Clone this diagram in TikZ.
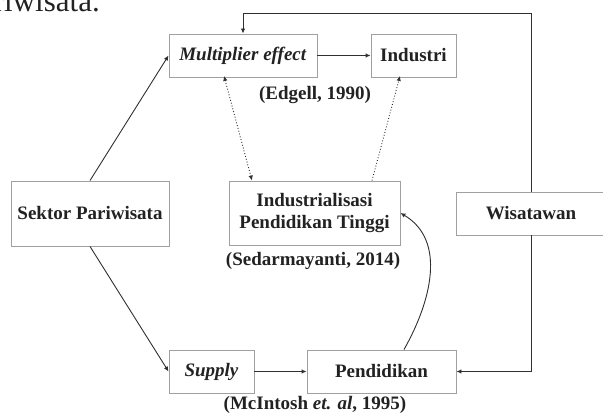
\documentclass[tikz,border=0pt]{standalone}
\usepackage{fontspec}
\setmainfont{Liberation Serif}
\usetikzlibrary{arrows.meta,calc}
\definecolor{boxgray}{HTML}{A0A0A0}
\definecolor{ln}{HTML}{303030}
\definecolor{txt}{HTML}{222222}
\begin{document}
\begin{tikzpicture}[x=1pt,y=-1pt,
  box/.style={draw=boxgray, line width=0.9pt, fill=white, inner sep=0pt,
    font=\fontsize{19}{22}\selectfont\bfseries, text=txt, align=center},
  reftext/.style={font=\fontsize{19}{22}\selectfont\bfseries, text=txt, inner sep=0pt},
  conn/.style={draw=ln, line width=0.9pt, -{Latex[length=5pt,width=4.5pt]}},
  dotconn/.style={conn, dotted}]
\useasboundingbox (0,0) rectangle (603,414);
\clip (0,0) rectangle (603,414);
% fragment of preceding text
\node[anchor=base east, font=\fontsize{31}{31}\selectfont, text=txt, inner sep=0pt] (prev) at (100,11.5) {Pariwisata.};
% boxes
\node[box, minimum width=148pt, minimum height=43pt] (mult) at (243,55.5) {\textit{Multiplier effect}};
\node[box, minimum width=85pt, minimum height=43pt] (ind) at (413.5,55.5) {Industri};
\node[box, minimum width=158pt, minimum height=65pt] (sek) at (90,213.5) {Sektor Pariwisata};
\node[box, minimum width=171pt, minimum height=64pt] (indt) at (314.5,213) {Industrialisasi\\Pendidikan Tinggi};
\node[box, minimum width=150pt, minimum height=43pt] (wis) at (531,213.5) {Wisatawan};
\node[box, minimum width=85pt, minimum height=43pt] (sup) at (211.5,371.5) {\textit{Supply}};
\node[box, minimum width=149pt, minimum height=43pt] (pen) at (381.5,371.5) {Pendidikan};
% references
\node[reftext] (edg) at (315,95) {(Edgell, 1990)};
\node[reftext] (sed) at (313,261) {(Sedarmayanti, 2014)};
\node[reftext] (mci) at (315,405) {(McIntosh \textit{et. al}, 1995)};
% connectors
\draw[conn] (sek.north) -- (mult.west);
\draw[conn] (sek.south) -- (sup.west);
\draw[conn] (mult.east) -- (ind.west);
\draw[conn] (sup.east) -- (pen.west);
\coordinate (tr) at (531,13);
\draw[conn] (wis.north) -- (tr) -| (mult.north);
\draw[conn] (wis.south) |- (pen.east);
\draw[dotconn, {Latex[length=5pt,width=4.5pt]}-{Latex[length=5pt,width=4.5pt]}] ([xshift=-19pt,yshift=1.5pt]mult.south) -- ([xshift=-62.5pt]indt.north);
\draw[dotconn] ([xshift=57.5pt]indt.north) -- ([xshift=-13.5pt,yshift=1.5pt]ind.south);
\draw[conn] ([xshift=22.5pt]pen.north) .. controls (432,300) and (446,240) .. (indt.east);
\end{tikzpicture}
\end{document}
